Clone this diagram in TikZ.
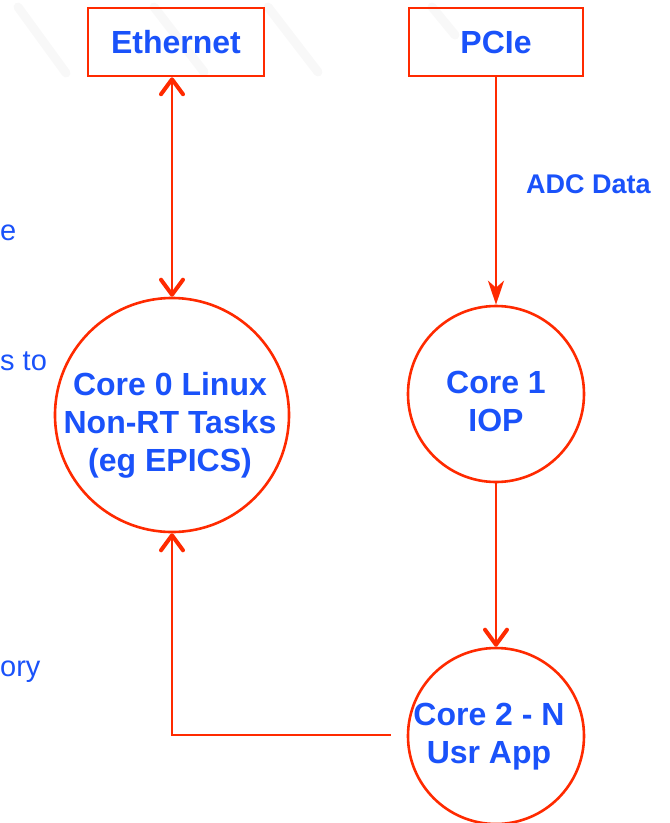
\documentclass[tikz,border=0pt]{standalone}
\usepackage{fontspec}
\setmainfont{Liberation Sans}
\usetikzlibrary{arrows.meta,calc}
\definecolor{wire}{RGB}{255,42,0}
\definecolor{ink}{RGB}{26,82,250}
\definecolor{haze}{RGB}{248,248,248}
\tikzset{
  barb/.tip={Straight Barb[length=15pt,width=22pt,line width=4pt,round]},
  dart/.tip={Stealth[length=24pt,width=16pt,inset=7pt]},
}
\begin{document}
\begin{tikzpicture}[x=1pt,y=-1pt,
  label/.style={text=ink,font=\bfseries\fontsize{32}{38}\selectfont,align=center},
  port/.style={label,draw=wire,line width=2.5pt,rectangle,minimum height=68pt,inner sep=0pt},
  core/.style={label,draw=wire,line width=2.6pt,circle,inner sep=0pt},
  flow/.style={draw=wire,line width=2.8pt},
  fragment/.style={text=ink,font=\fontsize{29}{34}\selectfont,inner sep=0pt},
  shade/.style={draw=haze,line width=9pt,line cap=round},
]
\useasboundingbox (0,0) rectangle (670,823);

% soft shadow streaks behind the two interface boxes
\draw[shade] (18,7) -- (66,73);
\draw[shade] (154,7) -- (204,72);
\draw[shade] (268,7) -- (318,72);
\draw[shade] (432,7) -- (455,35);

% interface boxes
\node[port,minimum width=176pt] (eth) at (176,42) {Ethernet};
\node[port,minimum width=174pt] (pcie) at (496,42) {PCIe};

% processor cores
\node[core,minimum size=234pt] (core0) at (172,415) {};
\node[label] (core0txt) at (170,425) {Core 0 Linux\\Non-RT Tasks\\(eg EPICS)};
\node[core,minimum size=176pt] (core1) at (496,394) {};
\node[label] (core1txt) at (496,401) {Core 1\\IOP};
\node[core,minimum size=176pt] (core2) at (496,736) {};
\node[label] (core2txt) at (489,737) {Core 2 - N\\Usr App};

% connectors
\draw[flow,barb-barb] (core0.north |- eth.south) -- (core0.north);
\draw[flow,-dart] (pcie.south) -- (core1.north);
\node[label,font=\bfseries\fontsize{27}{32}\selectfont,anchor=west,inner sep=0pt] (adc) at (526,184) {ADC Data};
\draw[flow,-barb] (core1.south) -- (core2.north);
\coordinate (usrtail) at ($(core2.west)+(-16,-1)$);
\draw[flow,-barb] (usrtail) -| (core0.south);

% text running in from the left margin
\node[fragment,anchor=base west] (fragA) at (0,240) {e};
\node[fragment,anchor=base west] (fragB) at (0,370) {s to};
\node[fragment,anchor=base west] (fragC) at (0,676) {ory};
\end{tikzpicture}
\end{document}
